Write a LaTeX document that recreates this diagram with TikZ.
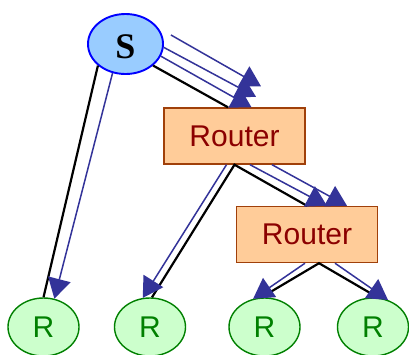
\documentclass[tikz,border=0pt]{standalone}
\usepackage{fontspec}
\setmainfont{Liberation Sans}
\newfontfamily\serifface{Liberation Serif}
\usetikzlibrary{shapes.geometric,arrows.meta,calc}

\definecolor{srcfill}{HTML}{99CCFF}
\definecolor{srcline}{HTML}{0000FF}
\definecolor{rtfill}{HTML}{FFCC99}
\definecolor{rtline}{HTML}{A0400A}
\definecolor{rttext}{HTML}{8B0000}
\definecolor{rcvfill}{HTML}{CCFFCC}
\definecolor{rcvline}{HTML}{008000}
\definecolor{streamblue}{HTML}{333399}

\begin{document}
\begin{tikzpicture}[x=1pt,y=-1pt,
  source/.style={ellipse, draw=srcline, fill=srcfill, line width=1.9pt,
    minimum width=75pt, minimum height=60pt, inner sep=0pt,
    font=\serifface\bfseries\fontsize{36}{36}\selectfont},
  router/.style={rectangle, draw=rtline, fill=rtfill, line width=1.4pt,
    minimum width=141pt, minimum height=56pt, inner sep=0pt,
    text=rttext, font=\fontsize{30}{30}\selectfont},
  receiver/.style={ellipse, draw=rcvline, fill=rcvfill, line width=1.4pt,
    minimum width=71pt, minimum height=58pt, inner sep=0pt,
    text=rcvline, font=\fontsize{30}{30}\selectfont},
  tree/.style={line width=2.2pt, draw=black, line join=miter},
  stream/.style={line width=1.5pt, draw=streamblue,
    -{Triangle[length=20pt,width=23pt]}},
]
\useasboundingbox[fill=white] (0,0) rectangle (409,354);

% hosts and routers
\node[source] (S) at (125.5,44) {\raisebox{-3pt}[\height][0pt]{S}};
\node[router] (Rt1) at (234.5,136) {Router};
\node[router] (Rt2) at (307,234.5) {Router};
\node[receiver] (R1) at (43.5,327) {R};
\node[receiver] (R2) at (150,327) {R};
\node[receiver] (R3) at (264.5,327) {R};
\node[receiver] (R4) at (373,327) {R};

% multicast tree links
\draw[tree] (S.218) -- (R1.north);
\draw[tree] (S.-38) -- ($(Rt1.north)+(-6.5,0)$);
\draw[tree] ($(R2.north)+(2,0)$) -- (Rt1.south) -- (Rt2.north);
\draw[tree] ($(R3.north)+(-3,0)$) -- ($(Rt2.south)+(12,0)$) -- ($(R4.north)+(4.5,0)$);

% packet copies flowing along the tree
\draw[stream] (S.246) -- (R1.69);
\draw[stream] ($(S.east)+(7,-9)$) -- ($(Rt1.north)+(26.5,-21)$);
\draw[stream] (S.-5) -- ($(Rt1.north)+(21.5,-10.5)$);
\draw[stream] (S.-19) -- ($(Rt1.north)+(17,0)$);
\draw[stream] ($(Rt1.south)+(-8,0)$) -- (R2.104);
\draw[stream] ($(Rt1.south)+(37.5,0)$) -- ($(Rt2.north)+(40,0)$);
\draw[stream] ($(Rt1.south)+(15.5,0)$) -- ($(Rt2.north)+(20,0)$);
\draw[stream] ($(Rt2.south)+(-2,0)$) -- (R3.112);
\draw[stream] ($(Rt2.south)+(28,0)$) -- (R4.61);
\end{tikzpicture}
\end{document}
